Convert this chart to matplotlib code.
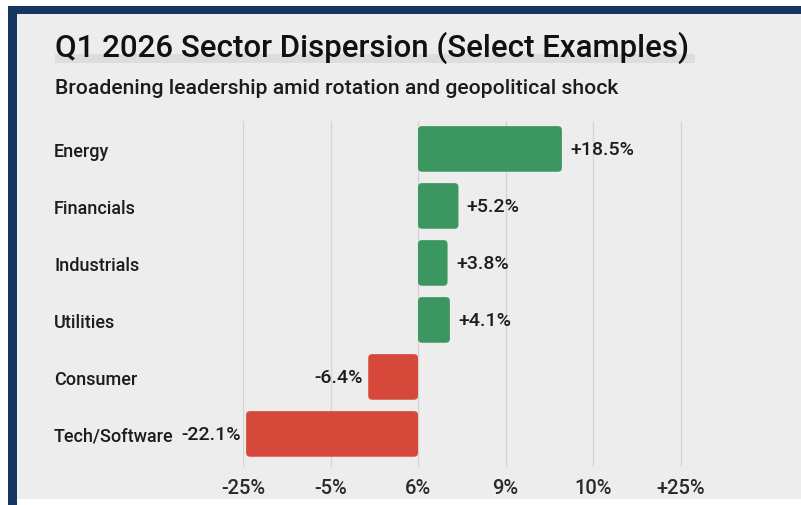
import numpy as np
import matplotlib
matplotlib.use("Agg")
import matplotlib.pyplot as plt
from matplotlib.patches import Rectangle, FancyBboxPatch

# data
sectors = ["Energy", "Financials", "Industrials", "Utilities", "Consumer", "Tech/Software"]
returns = [18.5, 5.2, 3.8, 4.1, -6.4, -22.1]
tick_labels = ["-25%", "-5%", "6%", "9%", "10%", "+25%"]

title = "Q1 2026 Sector Dispersion (Select Examples)"
subtitle = "Broadening leadership amid rotation and geopolitical shock"

GREEN = "#3b9660"
RED = "#d6493a"
PANEL = "#ededed"
NAVY = "#17365f"
TXT = "#1c1c1c"

plt.rcParams["font.family"] = ["Roboto", "Liberation Sans", "DejaVu Sans"]

W, H = 801, 506
fig = plt.figure(figsize=(W / 100, H / 100), dpi=100)
fig.patch.set_facecolor("white")

def px(x0, y0, x1, y1):
    # pixel box (top-left origin) -> figure fraction rectangle
    return [x0 / W, 1 - y1 / H, (x1 - x0) / W, (y1 - y0) / H]

# navy frame + light panel
bg = [
    (8, 7, W, H, NAVY),
    (17, 15, W, 500, PANEL),
    (17, 500, W, H, "white"),
    (55, 55, 695, 64, "#dddddd"),   # faint highlight under the title
]
for x0, y0, x1, y1, c in bg:
    r = px(x0, y0, x1, y1)
    fig.patches.append(Rectangle((r[0], r[1]), r[2], r[3], transform=fig.transFigure,
                                 facecolor=c, edgecolor="none", zorder=-5))

fig.text(55 / W, 1 - 48 / H, title, fontsize=22.5, fontweight="medium", color="#111111",
         va="center", ha="left")
fig.text(55 / W, 1 - 88 / H, subtitle, fontsize=15.2, fontweight="medium", color=TXT,
         va="center", ha="left")

ax = fig.add_axes(px(243, 122, 760, 468))
ax.set_facecolor("none")

y = np.arange(len(sectors))
colors = [GREEN if v >= 0 else RED for v in returns]
bars = ax.barh(y, returns, height=0.8, color=colors, zorder=2)

step = 11.25
xt = np.arange(-2, len(tick_labels) - 2) * step
ax.set_xticks(xt)
ax.set_xticklabels(tick_labels, fontsize=14.5, fontweight="medium", color="#2a2a2a")
ax.set_xlim(-2 * step, (760 - 418) / (175 / (2 * step)))
ax.set_ylim(5.58, -0.49)
ax.grid(axis="x", color="#d4d4d4", linewidth=0.9, zorder=0)

# swap plain bars for slightly rounded ones (same geometry)
xppu = 175 / (2 * step)
yppu = 346 / 6.07
rad = 4 / xppu
for b in bars:
    x0, w = b.get_x(), b.get_width()
    rb = FancyBboxPatch((min(x0, x0 + w), b.get_y()), abs(w), b.get_height(),
                        boxstyle=f"round,pad=0,rounding_size={rad}",
                        mutation_aspect=xppu / yppu,
                        facecolor=b.get_facecolor(), edgecolor="none", zorder=2)
    b.set_visible(False)
    ax.add_patch(rb)

ax.set_yticks(y)
ax.set_yticklabels(sectors, fontsize=13, fontweight="medium", color=TXT, ha="left")
ax.tick_params(axis="y", length=0, pad=(243 - 54) * 0.72)
ax.tick_params(axis="x", length=0, pad=8)
for s in ax.spines.values():
    s.set_visible(False)

for yi, v in zip(y, returns):
    lab = f"+{v:.1f}%" if v > 0 else f"{v:.1f}%"
    if v >= 0:
        ax.annotate(lab, (v, yi), xytext=(6, 0), textcoords="offset points",
                    ha="left", va="center", fontsize=14, fontweight="medium", color=TXT)
    else:
        ax.annotate(lab, (v, yi), xytext=(-4, 0), textcoords="offset points",
                    ha="right", va="center", fontsize=14, fontweight="medium", color=TXT)

fig.savefig("out.png", dpi=100)
